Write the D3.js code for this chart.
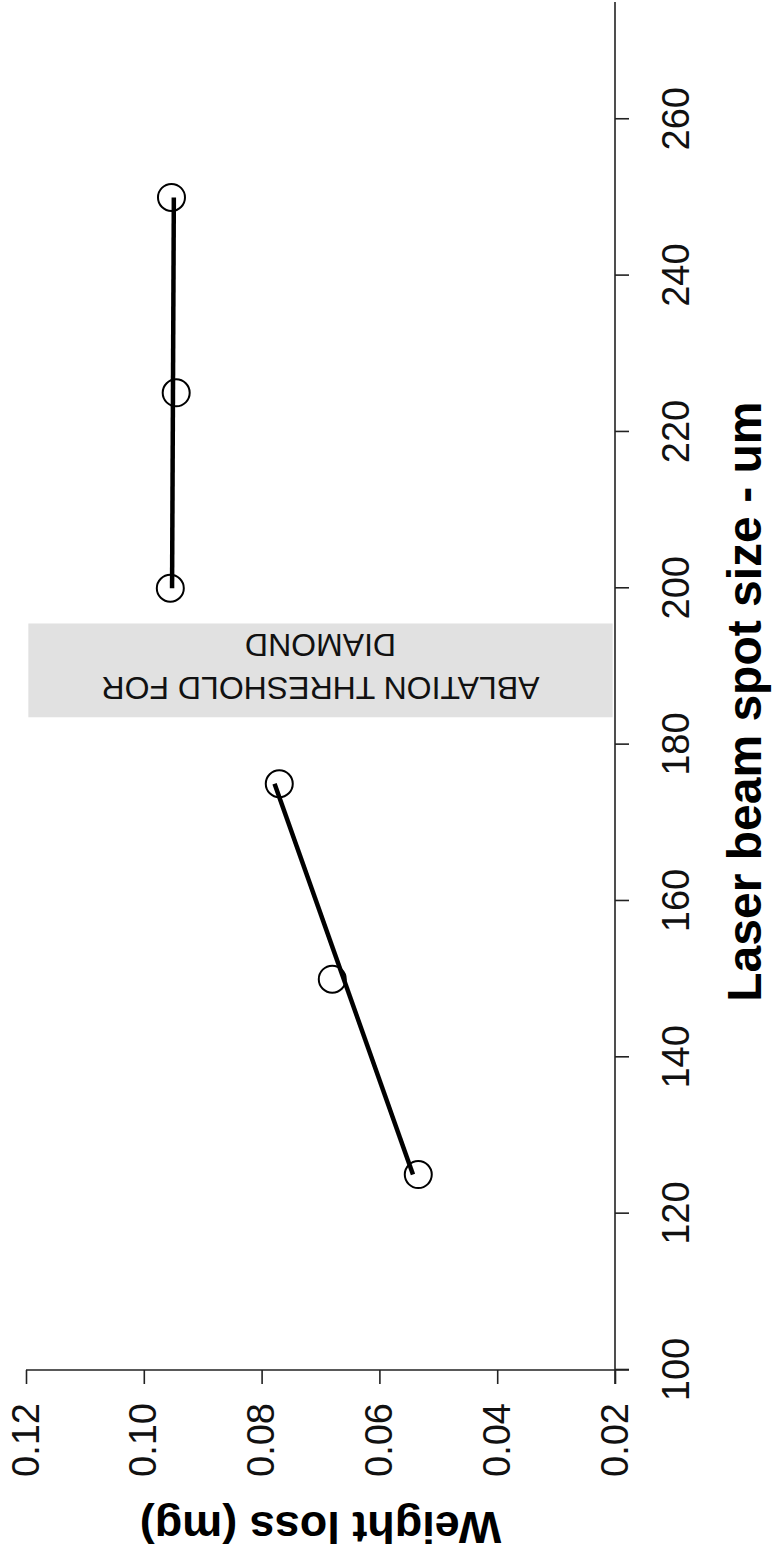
<!DOCTYPE html>
<html>
<head>
<meta charset="utf-8">
<script src="https://cdn.jsdelivr.net/npm/d3@7"></script>
<style>
  html, body { margin: 0; padding: 0; background: #fff; }
  svg { display: block; font-family: "Liberation Sans", Arial, Helvetica, sans-serif; }
</style>
</head>
<body>
<svg id="chart" width="774" height="1558"></svg>
<script>
// ---- data ----
const spotSize   = [125, 150, 175, 200, 225, 250];          // um
const weightLoss = [0.0534, 0.0680, 0.0770, 0.0955, 0.0945, 0.0953]; // mg
const fitLowX  = [125, 175];
const fitLowY  = [0.0543, 0.0778];
const fitHighX = [200, 250];
const fitHighY = [0.0952, 0.0949];
const bandSpot   = [183.5, 195.5];
const bandWeight = [0.0204, 0.1196];
const bandLines  = ["ABLATION THRESHOLD FOR", "DIAMOND"];
const spotTicks   = [100, 120, 140, 160, 180, 200, 220, 240, 260];
const weightTicks = [0.02, 0.04, 0.06, 0.08, 0.10, 0.12];
const spotDomain   = [100, 275];
const weightDomain = [0.02, 0.12];
const xTitle = "Laser beam spot size - um";
const yTitle = "Weight loss (mg)";

// ---- layout ----
const W = 774, H = 1558;
const svg = d3.select("#chart");
// chart is drawn in its own (unrotated) frame, then rotated -90deg onto the page
const g = svg.append("g").attr("transform", `translate(0,${H}) rotate(-90)`);

const x = d3.scaleLinear().domain(spotDomain).range([188, 1556]);
const y = d3.scaleLinear().domain(weightDomain).range([615, 26]);
const tick = 14;
const axisColor = "#222";

// band
g.append("rect")
  .attr("x", x(bandSpot[0]))
  .attr("width", x(bandSpot[1]) - x(bandSpot[0]))
  .attr("y", y(bandWeight[1]))
  .attr("height", y(bandWeight[0]) - y(bandWeight[1]))
  .attr("fill", "#e1e1e1");

const bandText = g.append("text")
  .attr("transform", `translate(${x((bandSpot[0] + bandSpot[1]) / 2)},${y((weightDomain[0] + weightDomain[1]) / 2)}) rotate(-90)`)
  .attr("text-anchor", "middle")
  .attr("font-size", 32)
  .attr("fill", "#111");
bandText.selectAll("tspan").data(bandLines).join("tspan")
  .attr("x", 0)
  .attr("y", (d, i) => i === 0 ? -6.6 : 36.4)
  .text(d => d);

// x axis (spot size)
const xAxis = g.append("g")
  .attr("transform", `translate(0,${y(weightDomain[0])})`)
  .call(d3.axisBottom(x).tickValues(spotTicks).tickSize(tick).tickSizeOuter(0).tickPadding(33).tickFormat(d3.format("d")));
xAxis.select(".domain").remove();
xAxis.append("line")
  .attr("x1", x(spotDomain[0]) - tick).attr("x2", x(spotDomain[1]))
  .attr("y1", 0).attr("y2", 0);

// y axis (weight loss)
const yAxis = g.append("g")
  .attr("transform", `translate(${x(spotDomain[0])},0)`)
  .call(d3.axisLeft(y).tickValues(weightTicks).tickSize(tick).tickSizeOuter(0).tickPadding(19).tickFormat(d3.format(".2f")));
yAxis.select(".domain").remove();
yAxis.append("line")
  .attr("x1", 0).attr("x2", 0)
  .attr("y1", y(weightDomain[1])).attr("y2", y(weightDomain[0]) + tick);

[xAxis, yAxis].forEach(a => {
  a.selectAll("line").attr("stroke", axisColor).attr("stroke-width", 1.6);
  a.selectAll("text").attr("font-size", 38).attr("fill", "#111")
    .attr("font-family", "'Liberation Sans', Arial, sans-serif");
});

// titles
g.append("text")
  .attr("x", x(185.5))
  .attr("y", 761)
  .attr("text-anchor", "middle")
  .attr("font-size", 48).attr("font-weight", "bold").attr("fill", "#000")
  .text(xTitle);

g.append("text")
  .attr("transform", `translate(46,${(y(weightDomain[0]) + y(weightDomain[1])) / 2}) rotate(-90)`)
  .attr("text-anchor", "middle")
  .attr("font-size", 45).attr("font-weight", "bold").attr("fill", "#000")
  .text(yTitle);

// points
const pts = spotSize.map((s, i) => ({ s, w: weightLoss[i] }));
g.append("g").selectAll("circle").data(pts).join("circle")
  .attr("cx", d => x(d.s)).attr("cy", d => y(d.w)).attr("r", 13.5)
  .attr("fill", "none").attr("stroke", "#000").attr("stroke-width", 2);

// fitted lines
const line = d3.line().x(d => x(d[0])).y(d => y(d[1]));
[[fitLowX, fitLowY], [fitHighX, fitHighY]].forEach(([xs, ys]) => {
  g.append("path")
    .datum(xs.map((v, i) => [v, ys[i]]))
    .attr("d", line)
    .attr("fill", "none").attr("stroke", "#000").attr("stroke-width", 4.5);
});
</script>
</body>
</html>
